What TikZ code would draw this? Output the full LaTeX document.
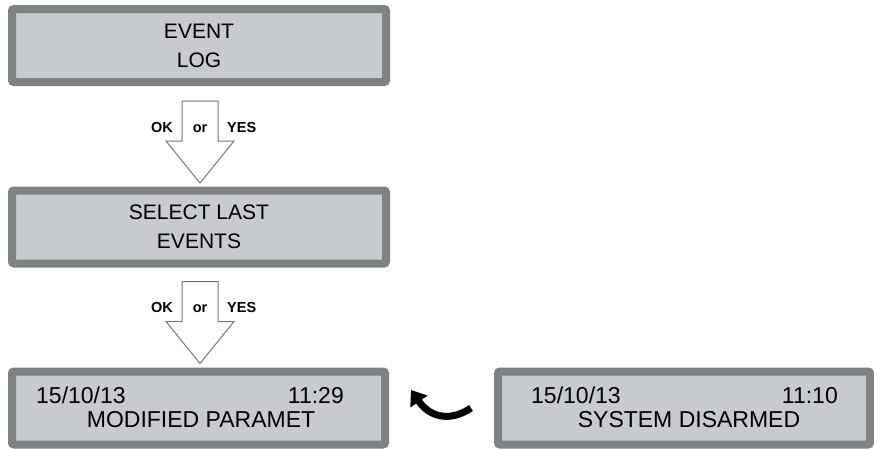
\documentclass[tikz,border=0pt]{standalone}
\usepackage{fontspec}
\setmainfont{Liberation Sans}
\usetikzlibrary{arrows.meta,calc}
\definecolor{framegray}{RGB}{128,129,131}
\definecolor{screengray}{RGB}{201,202,204}
\definecolor{arrowgray}{RGB}{120,120,120}
\tikzset{
  panel/.style={draw=framegray, line width=8pt, fill=screengray, rounded corners=2pt,
    minimum width=374pt, minimum height=73pt, inner sep=0pt, align=center,
    font=\fontsize{21}{29}\selectfont},
  keylabel/.style={font=\bfseries\fontsize{14.5}{16}\selectfont, inner sep=0pt, anchor=base},
  lcd/.style={font=\fontsize{23}{24}\selectfont, inner sep=0pt, anchor=base},
  hollow/.style={draw=arrowgray, line width=1pt, fill=white, line join=miter},
  pics/okarrow/.style={code={
    \draw[hollow] (-18,0) -- (18,0) -- (18,40) -- (34,40) -- (0,82) -- (-34,40) -- (-18,40) -- cycle;
    \node[keylabel, anchor=base east] (-ok) at (-27,31) {OK};
    \node[keylabel] (-or) at (0,31) {or};
    \node[keylabel, anchor=base west] (-yes) at (27,31) {YES};
  }},
}
\begin{document}
\begin{tikzpicture}[x=1pt,y=-1pt]
\useasboundingbox (0,0) rectangle (874,448);

% menu screens
\node[panel] (log) at (199,45.5) {EVENT\\LOG};
\node[panel] (sel) at (199,227) {SELECT LAST\\EVENTS};
\node[panel, minimum width=373pt] (mod) at (198.5,408) {};
\node[panel, minimum width=372pt] (dis) at (684,408) {};

% key presses between screens
\pic (k1) at ($(log.south)+(1,15)$) {okarrow};
\pic (k2) at ($(sel.south)+(1,14)$) {okarrow};

% event list entries
\node[lcd, anchor=base west] (mdate) at (36,403) {15/10/13};
\node[lcd, anchor=base east] (mtime) at (344,403) {11:29};
\node[lcd] (mtext) at (201,427) {MODIFIED PARAMET};
\node[lcd, anchor=base west] (ddate) at (531,403) {15/10/13};
\node[lcd, anchor=base east] (dtime) at (838,403) {11:10};
\node[lcd] (dtext) at (689,427) {SYSTEM DISARMED};

% scrolling to the previous entry
\coordinate (tailpt) at (471,408);
\coordinate (headpt) at (411,390);
\draw[line width=7pt, -{Triangle[width=20pt,length=14pt]}]
  (tailpt) .. controls (452,421) and (431,419) .. (headpt);
\end{tikzpicture}
\end{document}
